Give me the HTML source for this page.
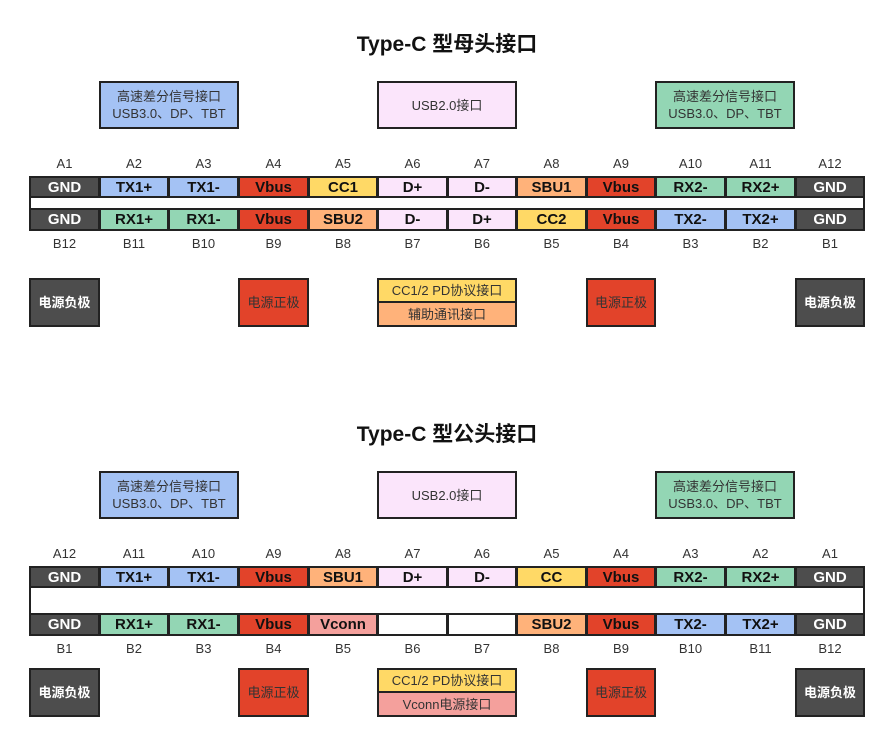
<!DOCTYPE html>
<html><head><meta charset="utf-8"><style>
body{margin:0;width:894px;height:743px;background:#fff;position:relative;overflow:hidden;font-family:"Liberation Sans","Noto Sans CJK SC",sans-serif}
.a{position:absolute;box-sizing:border-box;display:flex;align-items:center;justify-content:center;text-align:center}
.t{font-weight:bold;font-size:21px;color:#111}
.c{border:2px solid #222;font-weight:bold;font-size:15px;color:#111}
.l{font-size:13px;color:#333}
.b{border:2px solid #222;font-size:13px;color:#333;line-height:17px}
</style></head><body>
<script>
const X=[29,99,168,238,308,377,447,516,586,655,725,795,864];
const C={k:'#4d4d4d',b:'#a4c2f4',g:'#93d6b4',r:'#e2432a',y:'#ffd966',o:'#ffb27a',p:'#fbe5fb',v:'#f4a09c',w:'#fff'};
let h='';
function box(x,y,w,hh,bg,txt,cls,col){h+=`<div class="a ${cls}" style="left:${x}px;top:${y}px;width:${w}px;height:${hh}px;background:${bg};${col?'color:'+col:''}">${txt}</div>`;}
function sec(o,title,aL,aT,bL,bT,gapTop,gapBot,ccLow,ccLowC){
 box(0,o+28,894,30,'transparent',title,'t');
 box(99,o+81,140,48,C.b,'高速差分信号接口<br>USB3.0、DP、TBT','b');
 box(377,o+81,140,48,C.p,'USB2.0接口','b');
 box(655,o+81,140,48,C.g,'高速差分信号接口<br>USB3.0、DP、TBT','b');
 h+=`<div class="a" style="left:29px;top:${o+176}px;width:836px;height:${gapBot-176+(230-208)}px;border:2px solid #222"></div>`;
 for(let i=0;i<12;i++){
  const w=X[i+1]-X[i]+1;
  box(X[i],o+150,w,26,'transparent',aL[i],'l');
  let [tt,tc]=aT[i];box(X[i],o+176,w,22,C[tc],tt,'c',tc=='k'?'#fff':'');
  let [bt,bc]=bT[i];box(X[i],o+gapBot,w,23,C[bc],bt,'c',bc=='k'?'#fff':'');
  box(X[i],o+gapBot+22,w,26,'transparent',bL[i],'l');
 }
 const by=o+278;
 box(29,by,71,49,C.k,'电源负极','b','#fff;font-weight:bold;font-size:13px');
 box(238,by,71,49,C.r,'电源正极','b');
 box(586,by,70,49,C.r,'电源正极','b');
 box(795,by,70,49,C.k,'电源负极','b','#fff;font-weight:bold;font-size:13px');
 box(377,by,140,25,C.y,'CC1/2 PD协议接口','b');
 box(377,by+23,140,26,C[ccLowC],ccLow,'b');
}
sec(0,'Type-C 型母头接口',
 ['A1','A2','A3','A4','A5','A6','A7','A8','A9','A10','A11','A12'],
 [['GND','k'],['TX1+','b'],['TX1-','b'],['Vbus','r'],['CC1','y'],['D+','p'],['D-','p'],['SBU1','o'],['Vbus','r'],['RX2-','g'],['RX2+','g'],['GND','k']],
 ['B12','B11','B10','B9','B8','B7','B6','B5','B4','B3','B2','B1'],
 [['GND','k'],['RX1+','g'],['RX1-','g'],['Vbus','r'],['SBU2','o'],['D-','p'],['D+','p'],['CC2','y'],['Vbus','r'],['TX2-','b'],['TX2+','b'],['GND','k']],
 197,208,'辅助通讯接口','o');
sec(390,'Type-C 型公头接口',
 ['A12','A11','A10','A9','A8','A7','A6','A5','A4','A3','A2','A1'],
 [['GND','k'],['TX1+','b'],['TX1-','b'],['Vbus','r'],['SBU1','o'],['D+','p'],['D-','p'],['CC','y'],['Vbus','r'],['RX2-','g'],['RX2+','g'],['GND','k']],
 ['B1','B2','B3','B4','B5','B6','B7','B8','B9','B10','B11','B12'],
 [['GND','k'],['RX1+','g'],['RX1-','g'],['Vbus','r'],['Vconn','v'],['','w'],['','w'],['SBU2','o'],['Vbus','r'],['TX2-','b'],['TX2+','b'],['GND','k']],
 198,223,'Vconn电源接口','v');
document.write(h);
</script>
</body></html>
